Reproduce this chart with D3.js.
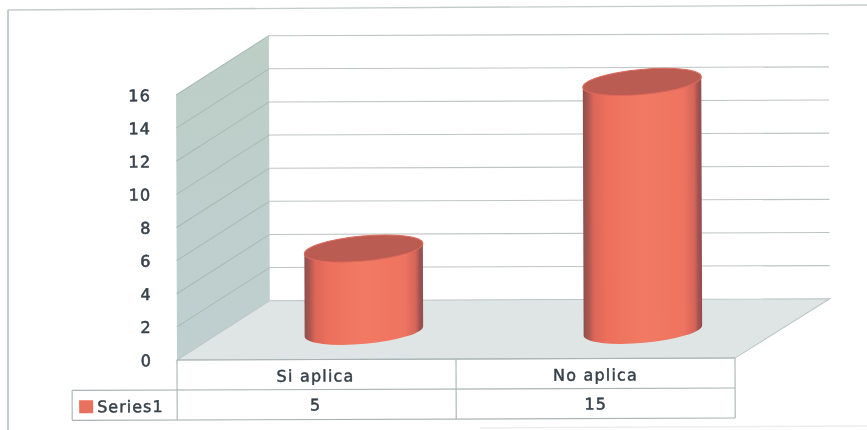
<!DOCTYPE html>
<html><head><meta charset="utf-8">
<style>html,body{margin:0;background:#fff;overflow:hidden}text{font-family:"DejaVu Sans",sans-serif;}</style>
<script src="https://cdn.jsdelivr.net/npm/d3@7/dist/d3.min.js"></script>
</head><body><svg id="c" width="867" height="430"></svg>
<script>
const categories = ["Si aplica", "No aplica"];
const seriesName = "Series1";
const seriesValues = [5, 15];
const yTicks = [0, 2, 4, 6, 8, 10, 12, 14, 16];

const svg = d3.select("#c");
const y = d3.scaleLinear().domain([0, 16]).range([360, 95]);
const x = d3.scaleBand().domain(categories).range([177, 735]);
const dx = 93, dy = -59;
const backRight = 830;
const txt = "#36404a";

const defs = svg.append("defs");
const g = defs.append("linearGradient").attr("id", "cyl");
[[0,"#8e4f50"],[0.04,"#a8564f"],[0.09,"#dc6658"],[0.2,"#ec705c"],[0.5,"#f27a63"],[0.85,"#ee7360"],[0.94,"#d4645a"],[0.97,"#a0524f"],[1,"#924e50"]]
  .forEach(s => g.append("stop").attr("offset", s[0]).attr("stop-color", s[1]));
const wall = defs.append("linearGradient").attr("id","wall").attr("x1",0).attr("y1",0).attr("x2",0).attr("y2",1);
wall.append("stop").attr("offset",0).attr("stop-color","#bdcec7");
wall.append("stop").attr("offset",1).attr("stop-color","#bfcfd0");
const soft = defs.append("filter").attr("id","soft").attr("x","-5%").attr("y","-5%").attr("width","110%").attr("height","110%");
soft.append("feGaussianBlur").attr("stdDeviation",0.55);

const root = svg.append("g").attr("filter","url(#soft)");

[[8,10,8,430,"#b2c2c4",1.6],[8,10,867,5,"#c4cccc",1.4],[480,428,867,426,"#ededed",1.5]]
  .forEach(l => root.append("line").attr("x1",l[0]).attr("y1",l[1]).attr("x2",l[2]).attr("y2",l[3]).attr("stroke",l[4]).attr("stroke-width",l[5]));

const chart = root.append("g").attr("transform","rotate(-0.2 177 360)");
const x0 = x.range()[0], x1 = x.range()[1];
const poly = pts => pts.map(p => p.join(",")).join(" ");
chart.append("polygon").attr("points", poly([[x0,y(0)],[x0,y(16)],[x0+dx,y(16)+dy],[x0+dx,y(0)+dy]])).attr("fill","url(#wall)");
chart.append("polygon").attr("points", poly([[x0,y(0)],[x0+dx,y(0)+dy],[backRight,y(0)+dy],[x1,y(0)]]))
   .attr("fill","#dfe4e4").attr("stroke","#bcc6c4");

yTicks.forEach(t => {
  if (t > 0) {
    chart.append("line").attr("x1",x0+dx).attr("x2",backRight).attr("y1",y(t)+dy).attr("y2",y(t)+dy).attr("stroke","#bfc5c3").attr("stroke-width",1.1);
    chart.append("line").attr("x1",x0).attr("x2",x0+dx).attr("y1",y(t)).attr("y2",y(t)+dy).attr("stroke","#a6bbb2").attr("stroke-width",1);
  }
  chart.append("text").attr("x",152).attr("y",y(t)+6).attr("text-anchor","end")
     .attr("font-size",16).attr("letter-spacing",1.2).attr("stroke",txt).attr("stroke-width",0.55).attr("fill",txt).text(t);
});

const rx = 59.5, ry = 12.5, tilt = -5;
const baseY = y(0) + dy/2 + 1.5;
seriesValues.forEach((v,i) => {
  const cx = x(categories[i]) + x.bandwidth()/2 + dx/2 + 1;
  const h = y(0) - y(v);
  const top = baseY - h;
  const r = tilt*Math.PI/180;
  const ox = rx*Math.cos(r), oy = rx*Math.sin(r);
  chart.append("path").attr("fill","url(#cyl)")
    .attr("d",`M${cx-ox},${top-oy} L${cx-ox},${baseY-oy} A${rx},${ry} ${tilt} 0 0 ${cx+ox},${baseY+oy} L${cx+ox},${top+oy} Z`);
  chart.append("ellipse").attr("cx",cx).attr("cy",top).attr("rx",rx).attr("ry",ry)
    .attr("transform",`rotate(${tilt} ${cx} ${top})`).attr("fill","#bb5b53").attr("stroke","#dc6a5c").attr("stroke-width",1);
});

const L = 177, R = 735, T = 360, M = 390, B = 420, LL = 72;
const tbl = chart.append("g").attr("stroke","#a9b3b3").attr("stroke-width",1.1);
[[L,T,R,T],[LL,M,R,M],[LL,B,R,B],[L,T,L,B],[R,T,R,B],[LL,M,LL,B],[x(categories[1]),T,x(categories[1]),B]]
  .forEach(l => tbl.append("line").attr("x1",l[0]).attr("y1",l[1]).attr("x2",l[2]).attr("y2",l[3]));
categories.forEach((c,i) => {
  const cx = x(c) + x.bandwidth()/2 - (i ? 0 : 1);
  chart.append("text").attr("x",cx).attr("y",382).attr("text-anchor","middle").attr("font-size",16).attr("letter-spacing",1.2).attr("stroke",txt).attr("stroke-width",0.45).attr("fill",txt).text(c);
  chart.append("text").attr("x",cx).attr("y",411).attr("text-anchor","middle").attr("font-size",16).attr("letter-spacing",1).attr("stroke",txt).attr("stroke-width",0.5).attr("fill",txt).text(seriesValues[i]);
});
chart.append("rect").attr("x",79).attr("y",400).attr("width",14).attr("height",13).attr("fill","#e8705f");
chart.append("text").attr("x",97).attr("y",412).attr("font-size",16).attr("letter-spacing",1).attr("stroke",txt).attr("stroke-width",0.45).attr("fill",txt).text(seriesName);
</script></body></html>
